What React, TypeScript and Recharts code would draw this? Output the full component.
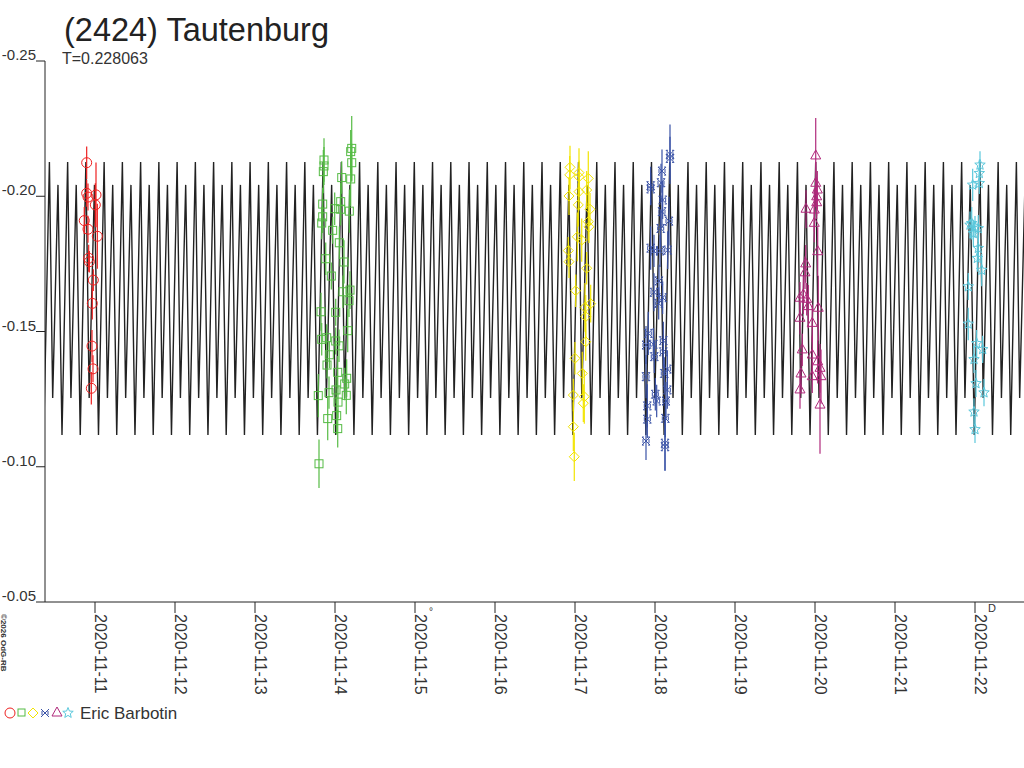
import { ComposedChart, Line, Scatter, ErrorBar, XAxis, YAxis } from 'recharts';

// rotation period (days) and the fitted lightcurve, one cycle
const period = 0.228063;
const fitEpoch = 10.43;
const fitPhases = [0, 0.18, 0.47, 0.69];
const fitMags = [-0.2127, -0.1254, -0.2042, -0.1117];

const xTicks = [11, 12, 13, 14, 15, 16, 17, 18, 19, 20, 21, 22];
const yTicks = [-0.25, -0.2, -0.15, -0.1, -0.05];

// session 1 – red circles
const s1Time = [10.896, 10.896, 10.9125, 11.0125, 11.004, 10.866, 10.9125, 11.029, 10.921, 10.929, 10.979, 10.966, 10.9625, 10.975, 10.954];
const s1Mag = [-0.2124, -0.2011, -0.1997, -0.2005, -0.1968, -0.191, -0.1878, -0.1852, -0.1771, -0.1758, -0.169, -0.1604, -0.1446, -0.1362, -0.129];
const s1Err = [0.006, 0.005, 0.005, 0.012, 0.008, 0.005, 0.005, 0.012, 0.005, 0.004, 0.004, 0.006, 0.006, 0.005, 0.006];

// session 2 – green squares
const s2Time = [14.209, 14.196, 14.209, 13.8625, 13.8625, 13.854, 14.084, 14.196, 13.846, 14.071, 13.996, 14.071, 14.179, 13.846, 13.834, 13.971, 14.054, 13.884, 14.1125, 13.954, 14.1, 14.1875, 14.175, 13.825, 14.009, 14.159, 13.834, 13.896, 14.009, 14.05, 13.929, 13.9, 14.034, 14.146, 14.121, 14.0125, 13.925, 13.791, 14.141, 14.0375, 14.021, 13.909, 14.034, 13.8];
const s2Mag = [-0.2177, -0.2165, -0.2124, -0.2134, -0.2112, -0.2091, -0.2069, -0.2064, -0.1971, -0.198, -0.1954, -0.1952, -0.1945, -0.1924, -0.1901, -0.1874, -0.1828, -0.1769, -0.1757, -0.1705, -0.1647, -0.1653, -0.1614, -0.1573, -0.1571, -0.1503, -0.1471, -0.1477, -0.1465, -0.1447, -0.1414, -0.1376, -0.1349, -0.1327, -0.1306, -0.1284, -0.1274, -0.1263, -0.1264, -0.1239, -0.1189, -0.1178, -0.1141, -0.1011];
const s2Err = [0.012, 0.008, 0.007, 0.008, 0.007, 0.008, 0.006, 0.01, 0.006, 0.007, 0.006, 0.006, 0.008, 0.006, 0.006, 0.005, 0.006, 0.006, 0.008, 0.005, 0.006, 0.007, 0.006, 0.007, 0.005, 0.008, 0.006, 0.005, 0.005, 0.006, 0.005, 0.005, 0.006, 0.007, 0.006, 0.005, 0.006, 0.008, 0.007, 0.006, 0.007, 0.008, 0.007, 0.009];

// session 3 – yellow diamonds
const s3Time = [16.9375, 16.934, 17.05, 17.05, 17.166, 17.146, 16.925, 17.05, 17.041, 17.1875, 17.166, 17.175, 17.029, 17.084, 16.916, 16.925, 17.146, 17.009, 17.196, 17.125, 17.134, 17.134, 17, 17.091, 16.979, 17.116, 17.104, 16.979, 16.991];
const s3Mag = [-0.2107, -0.2079, -0.2087, -0.2072, -0.2066, -0.2023, -0.2001, -0.2017, -0.1968, -0.1952, -0.1906, -0.1887, -0.185, -0.1838, -0.1799, -0.1758, -0.1734, -0.1651, -0.1603, -0.1589, -0.1555, -0.1462, -0.1401, -0.1345, -0.1265, -0.1259, -0.1235, -0.1148, -0.1037];
const s3Err = [0.008, 0.007, 0.009, 0.006, 0.01, 0.007, 0.007, 0.007, 0.008, 0.006, 0.007, 0.006, 0.009, 0.008, 0.005, 0.006, 0.006, 0.006, 0.007, 0.009, 0.008, 0.007, 0.006, 0.008, 0.006, 0.01, 0.007, 0.009, 0.009];

// session 4 – blue boxed crosses
const s4Time = [18.1875, 18.1875, 18.0875, 18.075, 17.946, 17.946, 18.096, 18.0875, 18.175, 18.071, 17.946, 17.9875, 18.0625, 18.159, 18.05, 17.9875, 18.096, 18.046, 17.916, 17.8875, 17.979, 18.104, 18.104, 17.991, 18.154, 18.116, 17.8875, 18.154, 18.004, 18.021, 18.1375, 17.904, 17.904, 18.129, 17.8875, 18.125, 18.125];
const s4Mag = [-0.2155, -0.214, -0.2093, -0.205, -0.2039, -0.2027, -0.1986, -0.1943, -0.1908, -0.1881, -0.1808, -0.1798, -0.1798, -0.1801, -0.1687, -0.1645, -0.1625, -0.1604, -0.1493, -0.145, -0.1453, -0.1466, -0.1425, -0.1407, -0.1361, -0.1345, -0.1333, -0.1284, -0.1268, -0.1243, -0.1243, -0.1225, -0.1176, -0.1179, -0.1095, -0.1087, -0.1074];
const s4Err = [0.011, 0.008, 0.008, 0.007, 0.007, 0.006, 0.007, 0.006, 0.009, 0.007, 0.008, 0.006, 0.006, 0.007, 0.006, 0.007, 0.006, 0.006, 0.008, 0.007, 0.006, 0.007, 0.006, 0.006, 0.007, 0.006, 0.008, 0.007, 0.006, 0.006, 0.007, 0.008, 0.007, 0.007, 0.007, 0.01, 0.009];

// session 5 – magenta triangles
const s5Time = [20.009, 20.009, 20.029, 20.021, 20.021, 19.8875, 19.991, 19.991, 20.034, 19.884, 19.875, 19.8125, 19.854, 19.896, 19.916, 20.041, 19.8125, 19.966, 19.841, 19.966, 20.034, 20.0625, 19.825, 19.966, 20.075, 19.8125, 20.0625];
const s5Mag = [-0.2149, -0.2048, -0.2023, -0.1998, -0.1976, -0.1952, -0.1949, -0.19, -0.1795, -0.175, -0.1717, -0.1623, -0.1635, -0.1619, -0.1592, -0.1586, -0.1549, -0.153, -0.1432, -0.1413, -0.1388, -0.1364, -0.1343, -0.1333, -0.1333, -0.1284, -0.1228];
const s5Err = [0.014, 0.008, 0.007, 0.007, 0.006, 0.007, 0.008, 0.007, 0.009, 0.007, 0.006, 0.006, 0.007, 0.006, 0.008, 0.012, 0.006, 0.007, 0.006, 0.007, 0.008, 0.009, 0.007, 0.006, 0.01, 0.007, 0.018];

// session 6 – cyan stars
const s6Time = [22.0625, 22.054, 22.054, 21.971, 21.959, 21.9375, 22, 22.041, 21.979, 22.041, 22.029, 22.084, 21.916, 21.916, 22.021, 22.096, 21.9875, 22.0125, 22.1125, 21.9875, 22];
const s6Mag = [-0.2116, -0.2085, -0.2048, -0.2042, -0.19, -0.1894, -0.1887, -0.1881, -0.1863, -0.1808, -0.1771, -0.1727, -0.1666, -0.1528, -0.1456, -0.1434, -0.1397, -0.1308, -0.1274, -0.1203, -0.1138];
const s6Err = [0.005, 0.005, 0.004, 0.006, 0.006, 0.005, 0.004, 0.005, 0.005, 0.005, 0.005, 0.006, 0.005, 0.006, 0.005, 0.005, 0.005, 0.005, 0.005, 0.005, 0.005];

const xMin = 10.375;
const xMax = 22.6125;

const fitCurve: { t: number; v: number }[] = [];
for (let k = -1; k < 56; k++) {
  fitPhases.forEach((p, i) => {
    const t = fitEpoch + (k + p) * period;
    if (t > xMin - period && t < xMax + period) fitCurve.push({ t, v: fitMags[i] });
  });
}

const toPoints = (ts: number[], ms: number[], es: number[]) =>
  ts.map((t, i) => ({ t, v: ms[i], e: es[i] }));

const circle = (c: string) => (p: any) => (
  <circle cx={p.cx} cy={p.cy} r={5} fill="none" stroke={c} strokeWidth={1} />
);
const square = (c: string) => (p: any) => (
  <rect x={p.cx - 4} y={p.cy - 4} width={8} height={8} fill="none" stroke={c} strokeWidth={1} />
);
const diamond = (c: string) => (p: any) => (
  <path d={`M${p.cx},${p.cy - 5}L${p.cx + 5},${p.cy}L${p.cx},${p.cy + 5}L${p.cx - 5},${p.cy}Z`} fill="none" stroke={c} strokeWidth={1} />
);
const boxCross = (c: string) => (p: any) => (
  <path
    d={`M${p.cx - 4},${p.cy - 4}L${p.cx + 4},${p.cy + 4}M${p.cx + 4},${p.cy - 4}L${p.cx - 4},${p.cy + 4}M${p.cx - 3},${p.cy - 2}V${p.cy + 2}M${p.cx + 3},${p.cy - 2}V${p.cy + 2}M${p.cx - 4},${p.cy - 4}H${p.cx - 2}M${p.cx + 2},${p.cy - 4}H${p.cx + 4}M${p.cx - 4},${p.cy + 4}H${p.cx - 2}M${p.cx + 2},${p.cy + 4}H${p.cx + 4}`}
    fill="none"
    stroke={c}
    strokeWidth={1}
  />
);
const triangle = (c: string) => (p: any) => (
  <path d={`M${p.cx},${p.cy - 6}L${p.cx + 5},${p.cy + 3}L${p.cx - 5},${p.cy + 3}Z`} fill="none" stroke={c} strokeWidth={1} />
);
const starPath = (cx: number, cy: number) => {
  let d = '';
  for (let i = 0; i < 10; i++) {
    const r = i % 2 === 0 ? 5.5 : 2.4;
    const a = -Math.PI / 2 + (i * Math.PI) / 5;
    d += `${i === 0 ? 'M' : 'L'}${(cx + r * Math.cos(a)).toFixed(2)},${(cy + r * Math.sin(a)).toFixed(2)}`;
  }
  return d + 'Z';
};
const star = (c: string) => (p: any) => (
  <path d={starPath(p.cx, p.cy)} fill="none" stroke={c} strokeWidth={1} />
);

const sessions = [
  { data: toPoints(s1Time, s1Mag, s1Err), color: '#ee2020', shape: circle },
  { data: toPoints(s2Time, s2Mag, s2Err), color: '#55bb44', shape: square },
  { data: toPoints(s3Time, s3Mag, s3Err), color: '#f2e400', shape: diamond },
  { data: toPoints(s4Time, s4Mag, s4Err), color: '#3a52a6', shape: boxCross },
  { data: toPoints(s5Time, s5Mag, s5Err), color: '#b02a7c', shape: triangle },
  { data: toPoints(s6Time, s6Mag, s6Err), color: '#5bc8dc', shape: star },
];

const YTick = (props: any) => {
  const { y, payload } = props;
  return (
    <text x={36} y={y - 1} textAnchor="end" fontSize={15} fill="#333" fontFamily="Liberation Sans, Arial, sans-serif">
      {'-' + Math.abs(payload.value).toFixed(2)}
    </text>
  );
};

const XTick = (props: any) => {
  const { x, payload } = props;
  const label = `2020-11-${String(payload.value).padStart(2, '0')}`;
  return (
    <text x={x} y={614} transform={`rotate(90 ${x} 614)`} fontSize={16} fill="#333" fontFamily="Liberation Sans, Arial, sans-serif">
      {label}
    </text>
  );
};

const App = () => {
  return (
    <div style={{ position: 'absolute', left: 0, top: 0, width: 1024, height: 768, background: '#fff', overflow: 'hidden' }}>
      <ComposedChart width={1024} height={768} margin={{ top: 61, right: 0, bottom: 0, left: 0 }}>
        <XAxis
          type="number"
          dataKey="t"
          domain={[xMin, xMax]}
          ticks={xTicks}
          allowDataOverflow
          height={166}
          tickSize={11}
          stroke="#222"
          tick={<XTick />}
        />
        <YAxis
          type="number"
          dataKey="v"
          domain={[-0.25, -0.05]}
          ticks={yTicks}
          reversed
          allowDataOverflow
          width={45}
          tickSize={9}
          stroke="#222"
          tick={<YTick />}
        />
        <Line data={fitCurve} dataKey="v" type="linear" stroke="#222" strokeWidth={1.4} dot={false} isAnimationActive={false} />
        {sessions.map((s, i) => (
          <Scatter key={i} data={s.data} dataKey="v" shape={s.shape(s.color)} isAnimationActive={false}>
            <ErrorBar dataKey="e" direction="y" width={0} stroke={s.color} strokeWidth={1.2} />
          </Scatter>
        ))}
      </ComposedChart>
      <svg width={1024} height={768} style={{ position: 'absolute', left: 0, top: 0, pointerEvents: 'none' }} fontFamily="Liberation Sans, Arial, sans-serif">
        <text x={64} y={41} fontSize={32.5} fill="#222">(2424) Tautenburg</text>
        <text x={62} y={64} fontSize={16} fill="#333">T=0.228063</text>
        <text x={429} y={615} fontSize={10} fill="#333">°</text>
        <text x={988} y={612} fontSize={11} fill="#333">D</text>
        <text x={1} y={614} transform="rotate(90 1 614)" fontSize={8} fontWeight="bold" fill="#333">©2026 OdG-RB</text>
        <circle cx={10} cy={713} r={5} fill="none" stroke="#ee2020" />
        <rect x={18} y={709} width={7} height={7} fill="none" stroke="#55bb44" />
        <path d="M33,708L38,713L33,718L28,713Z" fill="none" stroke="#f2e400" />
        <path d="M41,709L49,717M49,709L41,717M42,711V715M48,711V715" fill="none" stroke="#3a52a6" />
        <path d="M57,707L62,716L52,716Z" fill="none" stroke="#b02a7c" />
        <path d={starPath(68, 713)} fill="none" stroke="#5bc8dc" />
        <text x={80} y={719} fontSize={17} fill="#333">Eric Barbotin</text>
      </svg>
    </div>
  );
};

export default App;
